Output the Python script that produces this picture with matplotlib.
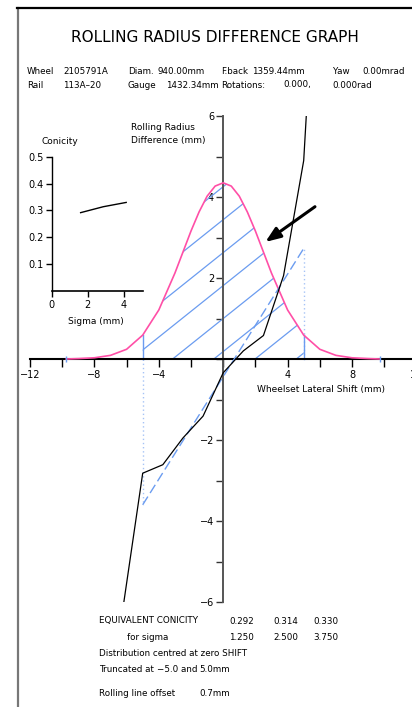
import matplotlib
matplotlib.use("Agg")
import matplotlib.pyplot as plt
import numpy as np
from matplotlib.lines import Line2D
from matplotlib.patches import Polygon

# ---- data ----
# rolling radius difference curve (mm) vs wheelset lateral shift (mm)
shift = [-6.17, -5.0, -3.75, -2.5, -1.25, 0.0, 1.25, 2.5, 3.75, 5.0, 5.16]
rrd = [-6.0, -2.82, -2.61, -1.95, -1.41, -0.34, 0.20, 0.58, 2.06, 4.90, 6.0]

# lateral shift distribution (scaled for display)
dist_x = [-9.75, -9, -8, -7, -6, -5, -4, -3, -2, -1.5, -1, -0.5, 0,
          0.5, 1, 1.5, 2, 3, 4, 5, 6, 7, 8, 9, 9.75]
dist_y = [0.0, 0.01, 0.03, 0.09, 0.24, 0.59, 1.21, 2.12, 3.16, 3.63, 4.02, 4.27, 4.35,
          4.27, 4.02, 3.63, 3.16, 2.12, 1.21, 0.59, 0.24, 0.09, 0.03, 0.01, 0.0]

# equivalent (rolling) line
roll_x = [-5.0, 5.0]
roll_y = [-3.6, 2.73]
trunc = [-5.0, 5.0]
roll_offset = 0.7

# conicity inset
sigma_plot = [1.6, 2.85, 4.12]
conicity = [0.292, 0.314, 0.330]
sigma_tab = [1.250, 2.500, 3.750]

PINK = "#ff4fa7"
BLUE = "#6b9cf0"

fig = plt.figure(figsize=(4.12, 7.07), dpi=100)
W, H = 412.0, 707.0


def fx(px):
    return px / W


def fy(py):
    return 1 - py / H


# frame lines
fig.add_artist(Line2D([fx(17.5), fx(17.5)], [fy(8), fy(707)], color="#777777", lw=1.6))
fig.add_artist(Line2D([fx(17), fx(412)], [fy(7.5), fy(7.5)], color="black", lw=1.6))

# ---- main axes ----
ax = fig.add_axes([fx(30.0), fy(602), 386.4 / W, 486 / H])
ax.set_xlim(-12, 12)
ax.set_ylim(-6, 6)
ax.patch.set_visible(False)
for s in ["top", "right"]:
    ax.spines[s].set_visible(False)
ax.spines["left"].set_position("zero")
ax.spines["bottom"].set_position("zero")
ax.spines["left"].set_color("#555555")
ax.spines["left"].set_linewidth(1.4)
ax.spines["bottom"].set_linewidth(1.5)

xt = np.arange(-12, 13, 2)
ax.set_xticks(xt, labels=[f"\u2212{-v}" if v < 0 and v % 4 == 0 else (str(v) if v > 0 and v % 4 == 0 else "") for v in xt])
yt = np.arange(-6, 7, 1)
ax.set_yticks(yt, labels=[f"\u2212{-v}" if v < 0 and v % 2 == 0 else (str(v) if v > 0 and v % 2 == 0 else "") for v in yt])
ax.tick_params(axis="x", direction="out", length=6, width=1.0, pad=2, labelsize=7)
ax.tick_params(axis="y", direction="out", length=5, width=1.0, pad=1.5, labelsize=7, color="#333333")

# distribution curve
ax.plot(dist_x, dist_y, color=PINK, lw=1.2, zorder=3)
ax.plot([dist_x[0], dist_x[-1]], [0, 0], ls="none", marker="|", ms=4, color=BLUE, zorder=4)

# truncated region hatched with diagonal lines
dx = np.array(dist_x)
dy = np.array(dist_y)
m = (dx >= trunc[0]) & (dx <= trunc[1])
poly_x = np.concatenate([[trunc[0]], dx[m], [trunc[1]]])
poly_y = np.concatenate([[0], dy[m], [0]])
region = Polygon(np.column_stack([poly_x, poly_y]), closed=True, facecolor="none", edgecolor="none")
ax.add_patch(region)
slope = 0.318
for x0 in np.arange(-0.58 - 2.56 * 8, 8, 2.56):
    ln, = ax.plot([-12, 12], [slope * (-12 - x0), slope * (12 - x0)], color=BLUE, lw=0.9, zorder=2)
    ln.set_clip_path(region)

# truncation limits
for xv, yv in zip(trunc, roll_y):
    ax.plot([xv, xv], [0, np.interp(xv, dist_x, dist_y)], color=BLUE, lw=1.0, zorder=2)
    ax.plot([xv, xv], [0, yv], color=BLUE, lw=1.0, ls=(0, (1, 2)), alpha=0.6, zorder=2)

# equivalent rolling line
ax.plot(roll_x, roll_y, color=BLUE, lw=1.0, ls=(0, (7, 3)), zorder=3)

# rolling radius difference
ax.plot(shift, rrd, color="black", lw=0.9, zorder=5)

# arrow
ax.annotate("", xy=(2.48, 2.85), xytext=(5.84, 3.8),
            arrowprops=dict(arrowstyle="-|>,head_length=0.9,head_width=0.35", color="black", lw=2.2))

fig.text(fx(131), fy(127), "Rolling Radius", fontsize=6.5, va="center")
fig.text(fx(131), fy(140), "Difference (mm)", fontsize=6.5, va="center")
fig.text(fx(257), fy(390), "Wheelset Lateral Shift (mm)", fontsize=6.5, va="center")

# ---- conicity inset ----
ax2 = fig.add_axes([fx(51.7), fy(291.2), 91.3 / W, 134.5 / H])
ax2.set_xlim(0, 5.05)
ax2.set_ylim(0, 0.5)
ax2.patch.set_visible(False)
for s in ["top", "right"]:
    ax2.spines[s].set_visible(False)
ax2.spines["left"].set_linewidth(1.0)
ax2.spines["bottom"].set_linewidth(1.2)
ax2.set_xticks([0, 2, 4])
ax2.set_yticks([0.1, 0.2, 0.3, 0.4, 0.5], labels=["0.1", "0.2", "0.3", "0.4", "0.5"])
ax2.tick_params(direction="out", length=4, width=1.0, pad=2, labelsize=7)
ax2.plot(sigma_plot, conicity, color="black", lw=1.0)
fig.text(fx(41), fy(141), "Conicity", fontsize=6.5, va="center")
fig.text(fx(68), fy(321), "Sigma (mm)", fontsize=6.5, va="center")

# ---- header ----
fig.text(fx(215), fy(37), "ROLLING RADIUS DIFFERENCE GRAPH", fontsize=11, ha="center", va="center")
hdr = 6.3
row1 = [(27, "Wheel"), (63, "2105791A"), (128, "Diam."), (157, "940.00mm"),
        (221, "F.back"), (252, "1359.44mm"), (333, "Yaw"), (362, "0.00mrad")]
row2 = [(27, "Rail"), (63, "113A\u201320"), (128, "Gauge"), (166, "1432.34mm"),
        (221, "Rotations:"), (283, "0.000,"), (332, "0.000rad")]
for px, t in row1:
    fig.text(fx(px), fy(71), t, fontsize=hdr, va="center")
for px, t in row2:
    fig.text(fx(px), fy(85), t, fontsize=hdr, va="center")

# ---- footer ----
ft = 6.3
fig.text(fx(99), fy(621), "EQUIVALENT CONICITY", fontsize=ft, va="center")
fig.text(fx(127), fy(637), "for sigma", fontsize=ft, va="center")
for px, c, s in zip([229, 273, 313], conicity, sigma_tab):
    fig.text(fx(px), fy(621), f"{c:.3f}", fontsize=ft, va="center")
    fig.text(fx(px), fy(637), f"{s:.3f}", fontsize=ft, va="center")
fig.text(fx(99), fy(654), "Distribution centred at zero SHIFT", fontsize=ft, va="center")
fig.text(fx(99), fy(670), "Truncated at", fontsize=ft, va="center")
fig.text(fx(157), fy(670), f"\u2212{-trunc[0]:.1f} and", fontsize=ft, va="center")
fig.text(fx(199), fy(670), f"{trunc[1]:.1f}mm", fontsize=ft, va="center")
fig.text(fx(99), fy(693), "Rolling line offset", fontsize=ft, va="center")
fig.text(fx(199), fy(693), f"{roll_offset:.1f}mm", fontsize=ft, va="center")

fig.savefig("out.png", dpi=100)
